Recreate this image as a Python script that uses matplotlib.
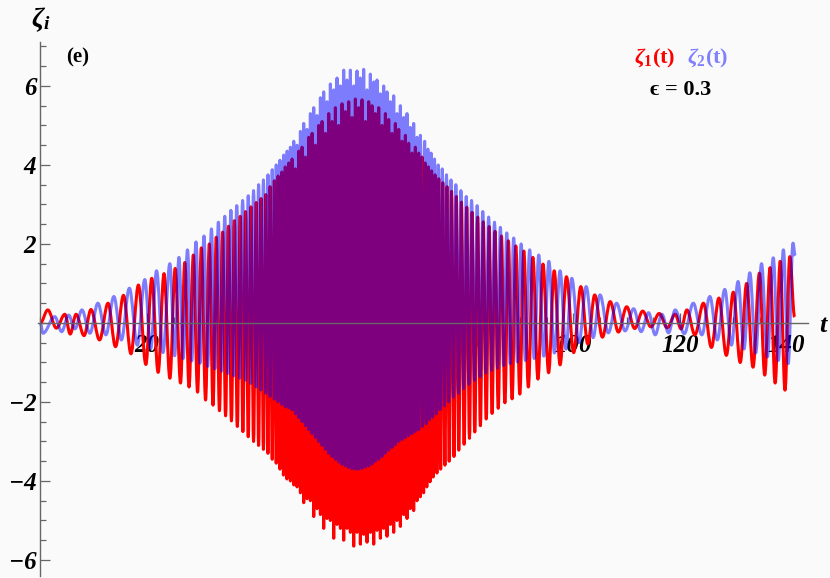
import numpy as np
import matplotlib.pyplot as plt
from matplotlib.ticker import MultipleLocator
from matplotlib.path import Path
from matplotlib.patches import PathPatch

# ==========================================
# DATA (extrema of the two oscillations)
# ==========================================
# zeta_1 (red), before the dense middle part
t1_left = [0.0, 1.4, 3.0, 4.6, 5.6, 6.7, 8.2, 9.5, 11.1, 12.7, 14.1, 15.6, 17.0,
           18.4, 19.8, 20.9, 22.1, 23.2, 24.3, 25.3, 26.3, 27.1, 27.9, 28.7,
           29.5, 30.2, 31.0, 31.7, 32.4, 33.0, 33.6, 34.2, 34.75, 35.3, 35.85,
           36.4, 36.95, 37.5, 38.0, 38.5, 39.0, 39.5, 40.0, 40.5, 40.95, 41.4,
           41.85, 42.3, 42.7, 43.1, 43.5, 43.9, 44.25, 44.6, 44.95, 45.3, 45.6,
           45.95, 46.25]
z1_left = [0.0, 0.33, -0.13, 0.22, -0.28, 0.22, -0.32, 0.34, -0.43, 0.50, -0.60,
           0.70, -0.78, 0.96, -1.05, 1.13, -1.25, 1.25, -1.40, 1.38, -1.52, 1.53,
           -1.62, 1.72, -1.75, 1.90, -1.95, 2.00, -2.08, 2.17, -2.22, 2.30, -2.35,
           2.45, -2.48, 2.59, -2.62, 2.70, -2.75, 2.82, -2.88, 2.94, -3.0, 3.05,
           -3.1, 3.15, -3.2, 3.25, -3.3, 3.45, -3.45, 3.6, -3.55, 3.72, -3.7,
           3.82, -3.85, 3.95, -3.95]

# dense middle part, both curves sampled at the same extrema times
t_mid = [46.60, 46.91, 47.23, 47.54, 47.85, 48.16, 48.48, 48.79, 49.10, 49.41,
         49.73, 50.04, 50.35, 50.66, 50.98, 51.29, 51.60, 51.91, 52.23, 52.54,
         52.85, 53.16, 53.48, 53.79, 54.10, 54.41, 54.73, 55.04, 55.35, 55.66,
         55.98, 56.29, 56.60, 56.91, 57.23, 57.54, 57.85, 58.16, 58.48, 58.79,
         59.10, 59.41, 59.73, 60.04, 60.35, 60.66, 60.98, 61.29, 61.60, 61.91,
         62.23, 62.54, 62.85, 63.16, 63.48, 63.79, 64.10, 64.41, 64.73, 65.04,
         65.35, 65.66, 65.98, 66.29, 66.60, 66.91, 67.23, 67.54, 67.85, 68.16,
         68.48, 68.79, 69.10, 69.41, 69.73, 70.04, 70.35, 70.66, 70.98, 71.29]
z1_mid = [4.05, -4.0, 4.15, -4.1, 3.9, -4.15, 4.35, -4.3, 4.45, -4.55,
          4.2, -4.45, 4.7, -4.5, 4.8, -4.9, 4.5, -4.7, 5.0, -4.85,
          5.1, -5.2, 4.8, -4.95, 5.3, -5.0, 5.1, -5.45, 5.45, -5.1,
          5.0, -5.2, 5.55, -5.5, 5.35, -5.2, 5.6, -5.3, 5.2, -5.65,
          5.67, -5.3, 5.45, -5.6, 5.65, -5.35, 5.1, -5.55, 5.6, -5.3,
          5.5, -5.6, 5.3, -5.25, 5.45, -5.45, 5.0, -5.2, 5.3, -5.4,
          5.15, -5.1, 4.8, -5.3, 5.05, -5.0, 4.9, -5.15, 4.6, -4.85,
          4.75, -4.95, 4.55, -4.7, 4.3, -4.75, 4.45, -4.5, 4.3, -4.4]
z2_mid = [-2.15, 4.45, -2.2, 4.6, -2.3, 4.5, -2.4, 4.85, -2.5, 5.05,
          -2.6, 4.9, -2.7, 5.3, -2.8, 5.45, -2.9, 5.25, -3.0, 5.7,
          -3.1, 5.85, -3.2, 5.6, -3.3, 6.05, -3.38, 5.9, -3.45, 6.2,
          -3.52, 6.0, -3.58, 6.4, -3.62, 6.15, -3.66, 6.4, -3.69, 6.0,
          -3.7, 6.38, -3.7, 6.2, -3.68, 6.42, -3.65, 5.9, -3.62, 6.3,
          -3.57, 6.1, -3.5, 6.15, -3.45, 5.8, -3.38, 6.0, -3.3, 5.85,
          -3.22, 5.6, -3.15, 5.75, -3.08, 5.3, -3.0, 5.5, -2.95, 5.2,
          -2.9, 5.3, -2.85, 4.95, -2.8, 5.05, -2.75, 4.7, -2.7, 4.75]

# zeta_1 (red), after the dense middle part
t1_right = [71.6, 71.9, 72.2, 72.5, 72.8, 73.1, 73.4, 73.7, 74.05, 74.4, 74.75,
            75.1, 75.5, 75.9, 76.3, 76.7, 77.15, 77.6, 78.05, 78.5, 79.0, 79.5,
            80.0, 80.5, 81.0, 81.5, 82.05, 82.55, 83.1, 83.65, 84.2, 84.75,
            85.3, 85.9, 86.5, 87.15, 87.8, 88.5, 89.2, 89.95, 90.7, 91.55, 92.4,
            93.35, 94.3, 95.35, 96.4, 97.5, 98.7, 100.05, 101.4, 102.7, 104.0,
            105.45, 106.9, 108.45, 110.0, 111.5, 113.0, 114.55, 116.1, 117.6,
            119.1, 120.2, 121.3, 122.8, 124.4, 125.9, 127.3, 128.7, 130.0,
            131.3, 132.5, 133.7, 134.9, 135.9, 136.9, 137.85, 138.8, 139.7,
            140.6, 141.5]
z1_right = [4.2, -4.3, 4.05, -4.15, 3.95, -4.02, 3.85, -3.9, 3.75, -3.8, 3.65,
            -3.7, 3.55, -3.6, 3.45, -3.5, 3.33, -3.38, 3.2, -3.22, 3.06, -3.07,
            2.93, -2.92, 2.8, -2.76, 2.68, -2.6, 2.56, -2.43, 2.44, -2.29,
            2.32, -2.16, 2.2, -2.02, 2.08, -1.92, 1.95, -1.8, 1.82, -1.62, 1.66,
            -1.42, 1.49, -1.26, 1.32, -1.06, 1.17, -0.75, 0.92, -0.53, 0.71,
            -0.36, 0.54, -0.23, 0.41, -0.14, 0.3, -0.1, 0.24, -0.12,
            0.22, -0.15, 0.33, -0.3, 0.5, -0.62, 0.63, -0.82, 0.78,
            -1.0, 1.0, -1.12, 1.26, -1.32, 1.4, -1.52, 1.56, -1.7,
            1.68, 0.15]

# zeta_2 (blue), before the dense middle part
t2_left = [0.0, 0.5, 2.7, 4.0, 5.3, 6.5, 7.8, 9.3, 10.8, 12.3, 13.8, 15.2, 16.7,
           18.2, 19.6, 20.7, 21.8, 23.0, 24.3, 25.2, 26.0, 26.8, 27.6, 28.4,
           29.2, 29.95, 30.7, 31.4, 32.1, 32.75, 33.4, 34.0, 34.6, 35.2, 35.75,
           36.3, 36.85, 37.4, 37.95, 38.5, 39.0, 39.5, 40.0, 40.5, 40.95, 41.4,
           41.85, 42.3, 42.7, 43.1, 43.5, 43.9, 44.25, 44.6, 44.95, 45.3, 45.65,
           45.95, 46.3]
z2_left = [0.0, -0.26, 0.16, -0.22, 0.2, -0.15, 0.33, -0.26, 0.5, -0.3, 0.67,
           -0.43, 0.88, -0.56, 1.1, -0.65, 1.32, -0.75, 1.5, -0.83, 1.66, -0.9,
           1.85, -0.96, 2.05, -1.02, 2.2, -1.1, 2.38, -1.16, 2.55, -1.22, 2.7,
           -1.28, 2.85, -1.34, 2.97, -1.4, 3.1, -1.45, 3.22, -1.53, 3.35, -1.62,
           3.5, -1.7, 3.62, -1.78, 3.75, -1.86, 3.88, -1.93, 4.0, -2.0, 4.12,
           -2.06, 4.25, -2.12, 4.35]

# zeta_2 (blue), after the dense middle part
t2_right = [71.7, 72.1, 72.4, 72.7, 73.0, 73.3, 73.6, 73.95, 74.3, 74.65, 75.0,
            75.4, 75.8, 76.2, 76.6, 77.05, 77.5, 77.95, 78.45, 78.9, 79.4, 79.9,
            80.4, 80.9, 81.45, 81.95, 82.5, 83.0, 83.55, 84.1, 84.65, 85.2,
            85.75, 86.3, 86.9, 87.5, 88.15, 88.8, 89.5, 90.2, 91.0, 91.8, 92.65,
            93.5, 94.45, 95.4, 96.45, 97.5, 98.6, 99.7, 101.05, 102.4, 103.7,
            105.0, 106.55, 108.1, 109.7, 111.3, 112.7, 114.1, 115.35, 116.6,
            117.85, 119.1, 120.8, 122.5, 124.1, 125.6, 127.0, 128.4, 129.65,
            130.9, 132.0, 133.1, 134.2, 135.3, 136.4, 137.5, 138.45, 139.4,
            140.3, 141.2, 141.6]
z2_right = [-2.62, 4.6, -2.55, 4.4, -2.45, 4.3, -2.38, 4.15, -2.3, 4.0, -2.2,
            3.9, -2.1, 3.75, -2.0, 3.62, -1.88, 3.5, -1.78, 3.35, -1.66, 3.2,
            -1.55, 3.1, -1.45, 2.97, -1.36, 2.82, -1.27, 2.68, -1.2, 2.55,
            -1.14, 2.42, -1.08, 2.28, -1.03, 2.15, -0.99, 2.0, -0.95, 1.85, -0.9,
            1.72, -0.84, 1.56, -0.76, 1.32, -0.66, 1.13, -0.5, 0.92, -0.37,
            0.71, -0.25, 0.5, -0.2, 0.36, -0.22, 0.26, -0.3, 0.22,
            -0.25, 0.33, -0.27, 0.5, -0.3, 0.67, -0.43, 0.85, -0.56,
            1.05, -0.66, 1.27, -0.76, 1.5, -0.86, 1.65, -0.95, 1.85,
            -1.03, 2.02, 1.7]

x_ticks = [20, 40, 60, 80, 100, 120, 140]
y_ticks = [-6, -4, -2, 2, 4, 6]

t1 = np.concatenate([t1_left, t_mid, t1_right])
z1 = np.concatenate([z1_left, z1_mid, z1_right])
t2 = np.concatenate([t2_left, t_mid, t2_right])
z2 = np.concatenate([z2_left, z2_mid, z2_right])


# smooth curve through the extrema: cubic segments with flat tangents
def wave_path(t, z):
    verts = [(t[0], z[0])]
    codes = [Path.MOVETO]
    for i in range(1, len(t)):
        d = t[i] - t[i - 1]
        verts += [(t[i - 1] + 0.36 * d, z[i - 1]),
                  (t[i] - 0.36 * d, z[i]),
                  (t[i], z[i])]
        codes += [Path.CURVE4] * 3
    return Path(verts, codes)


# ==========================================
# FONTS
# ==========================================
plt.rcParams['font.family'] = ['Liberation Serif', 'DejaVu Serif']
plt.rcParams['mathtext.fontset'] = 'custom'
plt.rcParams['mathtext.rm'] = 'Liberation Serif:bold'
plt.rcParams['mathtext.it'] = 'Liberation Serif:italic:bold'
plt.rcParams['mathtext.bf'] = 'Liberation Serif:bold'

bg = '#fafafa'
axis_col = '#666666'

# ==========================================
# PLOT
# ==========================================
fig = plt.figure(figsize=(8.3, 5.78), dpi=100)
fig.patch.set_facecolor(bg)
ax = fig.add_axes([0.0454, 0.0038, 0.928, 0.9227])
ax.set_facecolor(bg)

ax.add_patch(PathPatch(wave_path(t1, z1), fill=False, edgecolor='#ff0000',
                       lw=2.2, joinstyle='round', zorder=2.0))
ax.add_patch(PathPatch(wave_path(t2, z2), fill=False, edgecolor='#0000ff',
                       alpha=0.5, lw=2.2, joinstyle='round', zorder=2.1))

ax.set_xlim(-0.5, 144)
ax.set_ylim(-6.4, 7.1)

for side in ['top', 'right']:
    ax.spines[side].set_visible(False)
for side in ['left', 'bottom']:
    ax.spines[side].set_position(('data', 0))
    ax.spines[side].set_color(axis_col)
    ax.spines[side].set_linewidth(1.0)

ax.set_xticks(x_ticks)
ax.set_yticks(y_ticks)
ax.xaxis.set_minor_locator(MultipleLocator(5))
ax.yaxis.set_minor_locator(MultipleLocator(0.5))
ax.tick_params(which='both', direction='in', color=axis_col, width=0.9)
ax.tick_params(which='major', length=7)
ax.tick_params(which='minor', length=4)
ax.tick_params(axis='x', pad=8)
ax.tick_params(axis='y', pad=3)

for lab in ax.get_xticklabels() + ax.get_yticklabels():
    lab.set_fontsize(18)
    lab.set_fontweight('bold')
    lab.set_fontstyle('italic')

# axis labels
fig.text(823 / 830, 1 - 325 / 578, 't', fontsize=19, fontweight='bold',
         fontstyle='italic', ha='center', va='center')
fig.text(41 / 830, 1 - 20 / 578, r'$\zeta_i$', fontsize=20,
         ha='center', va='center')

# panel label and legend
fig.text(78 / 830, 1 - 57 / 578, '(e)', fontsize=15, fontweight='bold',
         ha='center', va='center')
fig.text(655 / 830, 1 - 58 / 578, r'$\zeta_1$(t)', fontsize=16,
         fontweight='bold', color='#ff0000', ha='center', va='center')
fig.text(708 / 830, 1 - 58 / 578, r'$\zeta_2$(t)', fontsize=16,
         fontweight='bold', color='#8080ff', ha='center', va='center')
fig.text(681 / 830, 1 - 90 / 578, 'ϵ = 0.3', fontsize=16, fontweight='bold',
         ha='center', va='center')

fig.savefig('out.png', dpi=100, facecolor=bg)
